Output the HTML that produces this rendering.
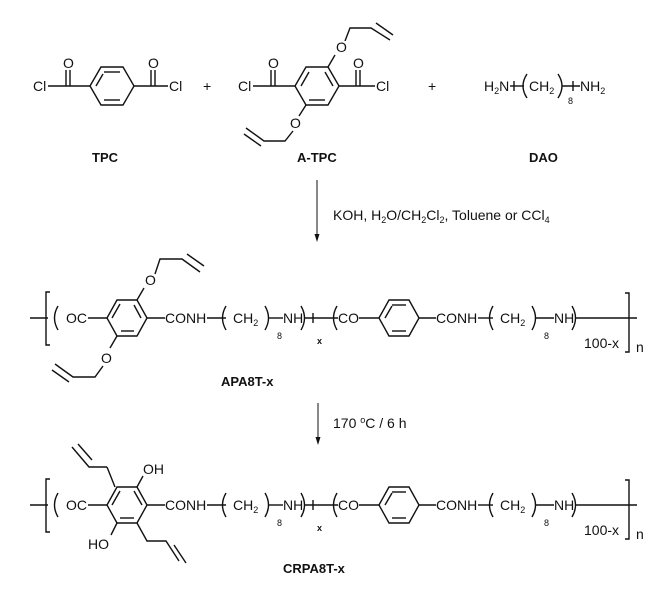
<!DOCTYPE html>
<html><head><meta charset="utf-8"><style>
html,body{margin:0;padding:0;background:#fff}
svg{display:block}
text{font-family:"Liberation Sans",Arial,sans-serif;fill:#111;font-size:14px;stroke:none}
.b{font-weight:bold;font-size:13px}
.s{font-size:9px}
</style></head><body>
<svg width="672" height="590" viewBox="0 0 672 590" stroke="#111" stroke-width="1.4" fill="none">
<!-- ROW 1 -->
<text x="33" y="91">Cl</text>
<line x1="48" y1="86" x2="90" y2="86"/>
<line x1="66" y1="86" x2="66" y2="70"/><line x1="70" y1="86" x2="70" y2="70"/>
<text x="63" y="68">O</text>
<polygon points="90,86 101,67 123,67 134,86 123,105 101,105"/>
<line x1="104" y1="72" x2="120" y2="72"/><line x1="104" y1="100" x2="120" y2="100"/><line x1="96" y1="86" x2="103" y2="74"/>
<line x1="134" y1="86" x2="168" y2="86"/>
<line x1="151" y1="86" x2="151" y2="70"/><line x1="155" y1="86" x2="155" y2="70"/>
<text x="148" y="68">O</text>
<text x="169" y="91">Cl</text>
<text x="203" y="91" font-size="13">+</text>
<!-- A-TPC -->
<text x="238" y="91">Cl</text>
<line x1="253" y1="86" x2="295" y2="86"/>
<line x1="271" y1="86" x2="271" y2="70"/><line x1="275" y1="86" x2="275" y2="70"/>
<text x="268" y="68">O</text>
<polygon points="295,86 306,67 328,67 339,86 328,105 306,105"/>
<line x1="301" y1="86" x2="309" y2="72"/><line x1="309" y1="100" x2="325" y2="100"/><line x1="333" y1="86" x2="325" y2="72"/>
<line x1="339" y1="86" x2="375" y2="86"/>
<line x1="356" y1="86" x2="356" y2="70"/><line x1="360" y1="86" x2="360" y2="70"/>
<text x="353" y="68">O</text>
<text x="376" y="91">Cl</text>
<line x1="328" y1="67" x2="335" y2="55"/>
<text x="336" y="52">O</text>
<polyline points="345,41 350,28 371,28 390,40"/><line x1="376" y1="23" x2="393" y2="35"/>
<line x1="306" y1="105" x2="299" y2="116"/>
<text x="290" y="128">O</text>
<polyline points="293,131 285,141 264,141 246,128"/><line x1="244" y1="134" x2="261" y2="146"/>
<text x="428" y="91" font-size="13">+</text>
<!-- DAO -->
<text x="484" y="91">H<tspan class="s" dy="3">2</tspan><tspan dy="-3">N</tspan></text>
<line x1="510" y1="86" x2="524" y2="86"/><line x1="514" y1="81" x2="514" y2="91"/>
<path d="M527,74 Q519,86 527,98"/>
<text x="529" y="91">CH<tspan class="s" dy="3">2</tspan></text>
<path d="M558,74 Q566,86 558,98"/>
<text x="568" y="104" class="s">8</text>
<line x1="562" y1="86" x2="580" y2="86"/><line x1="573" y1="81" x2="573" y2="91"/>
<text x="580" y="91">NH<tspan class="s" dy="3">2</tspan></text>
<text x="92" y="162" class="b">TPC</text>
<text x="297" y="162" class="b">A-TPC</text>
<text x="529" y="162" class="b">DAO</text>
<!-- arrow 1 -->
<line x1="317" y1="180" x2="317" y2="240" stroke-width="1"/>
<polygon points="314.5,234 319.5,234 317,242" fill="#111" stroke="none"/>
<text x="333" y="220" font-size="13">KOH, H<tspan class="s" dy="3">2</tspan><tspan dy="-3">O/CH</tspan><tspan class="s" dy="3">2</tspan><tspan dy="-3">Cl</tspan><tspan class="s" dy="3">2</tspan><tspan dy="-3">, Toluene or CCl</tspan><tspan class="s" dy="3">4</tspan></text>
<!-- chain definition at y=318 -->
<g id="chain">
<line x1="30" y1="318" x2="48" y2="318"/>
<polyline points="50,292 46,292 46,345 50,345"/>
<path d="M58,306 Q51,318 58,330"/>
<text x="66" y="323">OC</text>
<line x1="88" y1="318" x2="107" y2="318"/>
<polygon points="107,318 117,300 137,300 147,318 137,336 117,336"/>
<line x1="147" y1="318" x2="165" y2="318"/>
<text x="165" y="323">CONH</text>
<line x1="207" y1="318" x2="226" y2="318"/>
<path d="M226,306 Q219,318 226,330"/>
<text x="233" y="323">CH<tspan class="s" dy="3">2</tspan></text>
<path d="M265,306 Q272,318 265,330"/>
<text x="277" y="339" class="s">8</text>
<line x1="268" y1="318" x2="283" y2="318"/>
<text x="283" y="323">NH</text>
<path d="M301,306 Q308,318 301,330"/>
<text x="317" y="344" class="s" font-weight="bold">x</text>
<line x1="305" y1="318" x2="338" y2="318"/><line x1="313" y1="313" x2="313" y2="323"/>
<path d="M337,306 Q330,318 337,330"/>
<text x="338" y="323">CO</text>
<line x1="359" y1="318" x2="379" y2="318"/>
<polygon points="379,318 389,300 409,300 419,318 409,336 389,336"/>
<line x1="392" y1="305" x2="406" y2="305"/><line x1="392" y1="331" x2="406" y2="331"/><line x1="385" y1="318" x2="392" y2="306"/>
<line x1="419" y1="318" x2="436" y2="318"/>
<text x="436" y="323">CONH</text>
<line x1="478" y1="318" x2="493" y2="318"/>
<path d="M493,306 Q486,318 493,330"/>
<text x="500" y="323">CH<tspan class="s" dy="3">2</tspan></text>
<path d="M532,306 Q539,318 532,330"/>
<text x="544" y="339" class="s">8</text>
<line x1="535" y1="318" x2="554" y2="318"/>
<text x="554" y="323">NH</text>
<path d="M572,306 Q579,318 572,330"/>
<line x1="576" y1="318" x2="637" y2="318"/>
<text x="584" y="348" font-size="13" font-weight="bold" style="font-weight:normal">100-x</text>
<polyline points="625,293 629,293 629,352 625,352"/>
<text x="636" y="352" font-size="11">n</text>
</g>
<!-- row 2 specifics -->
<line x1="112" y1="318" x2="120" y2="304"/><line x1="121" y1="331" x2="134" y2="331"/><line x1="141" y1="318" x2="134" y2="305"/>
<line x1="137" y1="300" x2="144" y2="288"/>
<text x="145" y="285">O</text>
<polyline points="155,274 160,259 182,259 200,272"/><line x1="187" y1="254" x2="204" y2="266"/>
<line x1="117" y1="336" x2="110" y2="348"/>
<text x="101" y="363">O</text>
<polyline points="103,366 95,377 73,377 55,364"/><line x1="52" y1="370" x2="69" y2="382"/>
<text x="221" y="310" class="b" transform="translate(0,76)">APA8T-x</text>
<!-- arrow 2 -->
<line x1="318" y1="403" x2="318" y2="443" stroke-width="1"/>
<polygon points="315.5,437 320.5,437 318,445" fill="#111" stroke="none"/>
<text x="333" y="428" font-size="13">170 <tspan class="s" dy="-5">o</tspan><tspan dy="5">C / 6 h</tspan></text>
<!-- row 3 -->
<use href="#chain" transform="translate(0,187)"/>
<line x1="112" y1="505" x2="120" y2="491"/><line x1="120" y1="518" x2="134" y2="518"/><line x1="142" y1="505" x2="134" y2="491"/>
<line x1="115" y1="487" x2="107" y2="467"/>
<polyline points="107,467 89,467 72,447"/><line x1="78" y1="444" x2="92" y2="460"/>
<line x1="137" y1="487" x2="143" y2="476"/>
<text x="143" y="474">OH</text>
<line x1="117" y1="523" x2="111" y2="535"/>
<text x="88" y="549">HO</text>
<polyline points="137,523 147,541 166,541 179,561"/><line x1="172" y1="562" x2="185" y2="556" stroke="none"/><line x1="174" y1="545" x2="186" y2="563"/>
<text x="283" y="573" class="b">CRPA8T-x</text>
</svg>
</body></html>
